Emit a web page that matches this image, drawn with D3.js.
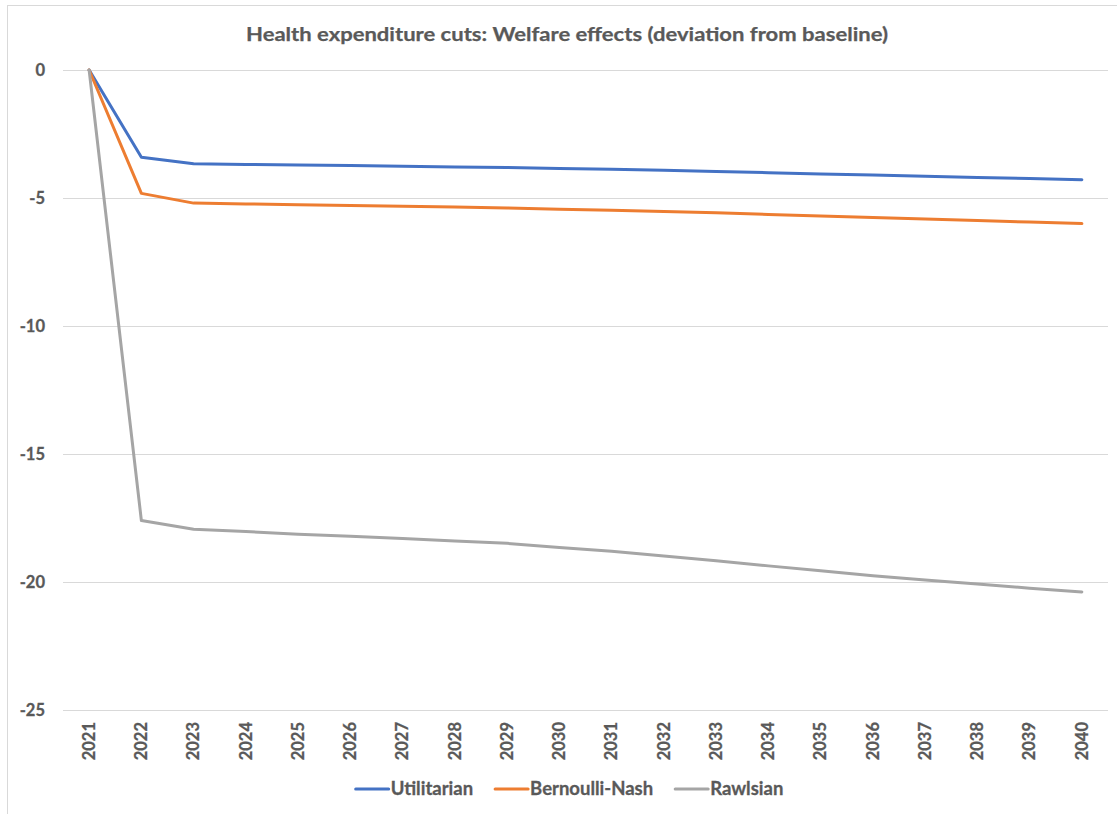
<!DOCTYPE html>
<html>
<head>
<meta charset="utf-8">
<script src="https://cdn.jsdelivr.net/npm/d3@7"></script>
<style>
  html, body { margin: 0; padding: 0; background: #fff; }
  svg { display: block; }
  text { font-family: Lato, "Open Sans", "Liberation Sans", sans-serif; font-weight: bold; fill: #595959; }
</style>
</head>
<body>
<svg id="chart" width="1117" height="814"></svg>
<script>
// Years on the category axis
const years = ["2021","2022","2023","2024","2025","2026","2027","2028","2029","2030",
               "2031","2032","2033","2034","2035","2036","2037","2038","2039","2040"];

// Welfare effects, deviation from baseline
const utilitarian = [0, -3.41, -3.66, -3.69, -3.71, -3.73, -3.76, -3.79, -3.81, -3.85,
                     -3.88, -3.92, -3.96, -4.01, -4.06, -4.10, -4.15, -4.20, -4.24, -4.29];
const bernoulliNash = [0, -4.82, -5.20, -5.23, -5.26, -5.29, -5.32, -5.35, -5.39, -5.44,
                       -5.48, -5.53, -5.58, -5.64, -5.70, -5.76, -5.82, -5.88, -5.94, -6.00];
const rawlsian = [0, -17.60, -17.94, -18.03, -18.13, -18.21, -18.30, -18.40, -18.49, -18.65,
                  -18.80, -18.98, -19.17, -19.37, -19.56, -19.76, -19.92, -20.08, -20.24, -20.39];

const yTicks = [0, -5, -10, -15, -20, -25];

const seriesNames = ["Utilitarian", "Bernoulli-Nash", "Rawlsian"];
const seriesColors = ["#4472C4", "#ED7D31", "#A5A5A5"];
const seriesValues = [utilitarian, bernoulliNash, rawlsian];

const titleText = "Health expenditure cuts: Welfare effects (deviation from baseline)";

const svg = d3.select("#chart");

// chart area frame
svg.append("rect")
  .attr("x", 7.5).attr("y", 5.5)
  .attr("width", 1200).attr("height", 900)
  .attr("fill", "#fff")
  .attr("stroke", "#d9d9d9").attr("stroke-width", 1);

const plot = { left: 63, right: 1108, top: 70, bottom: 710 };

const x = d3.scaleBand().domain(years).range([plot.left, plot.right]);
const xc = d => x(d) + x.bandwidth() / 2;
const y = d3.scaleLinear().domain([-25, 0]).range([plot.bottom, plot.top]);

// title
svg.append("text")
  .attr("x", 567).attr("y", 41)
  .attr("text-anchor", "middle")
  .attr("font-size", 19)
  .attr("textLength", 642)
  .attr("lengthAdjust", "spacingAndGlyphs")
  .style("stroke", "#595959").style("stroke-width", 0.25)
  .text(titleText);

// horizontal gridlines + value axis labels
const yAxis = d3.axisLeft(y)
  .tickValues(yTicks)
  .tickSize(-(plot.right - plot.left))
  .tickPadding(18)
  .tickFormat(d3.format("d"));

const gy = svg.append("g")
  .attr("transform", `translate(${plot.left},0)`)
  .call(yAxis);
gy.select(".domain").remove();
gy.selectAll(".tick line").attr("stroke", "#d9d9d9").attr("stroke-width", 1);
gy.selectAll(".tick text")
  .attr("font-size", 16.5)
  .attr("fill", "#595959")
  .attr("font-family", "Lato, 'Open Sans', sans-serif")
  .attr("font-weight", "bold")
  .style("stroke", "#595959").style("stroke-width", 0.3)
  .text(d => d === 0 ? "0" : "-" + Math.abs(d));

// category axis labels, rotated
const xAxis = d3.axisBottom(x).tickSize(0).tickPadding(0);
const gx = svg.append("g")
  .attr("transform", `translate(0,${plot.bottom})`)
  .call(xAxis);
gx.select(".domain").remove();
gx.selectAll(".tick text")
  .attr("font-size", 16.5)
  .attr("fill", "#595959")
  .attr("font-family", "Lato, 'Open Sans', sans-serif")
  .attr("font-weight", "bold")
  .style("stroke", "#595959").style("stroke-width", 0.3)
  .attr("transform", "rotate(-90)")
  .attr("text-anchor", "end")
  .attr("x", -12)
  .attr("y", 0)
  .attr("dy", "0.35em");

// series lines
const line = d3.line()
  .x((d, i) => xc(years[i]))
  .y(d => y(d));

seriesValues.forEach((vals, i) => {
  svg.append("path")
    .datum(vals)
    .attr("d", line)
    .attr("fill", "none")
    .attr("stroke", seriesColors[i])
    .attr("stroke-width", 3)
    .attr("stroke-linejoin", "round")
    .attr("stroke-linecap", "round");
});

// legend, centred under the plot
const legend = svg.append("g");
const items = seriesNames.map((name, i) => {
  const g = legend.append("g");
  g.append("line")
    .attr("x1", 0).attr("x2", 33)
    .attr("y1", 0).attr("y2", 0)
    .attr("stroke", seriesColors[i])
    .attr("stroke-width", 3)
    .attr("stroke-linecap", "round");
  const t = g.append("text")
    .attr("x", 35).attr("y", 0)
    .attr("dy", "0.35em")
    .attr("font-size", 18.5)
    .style("stroke", "#595959").style("stroke-width", 0.3)
    .text(name);
  return { g, w: 35 + t.node().getComputedTextLength() };
});
const gap = 22;
const total = d3.sum(items, d => d.w) + gap * (items.length - 1);
let cx = 569.5 - total / 2;
items.forEach(it => {
  it.g.attr("transform", `translate(${cx},789)`);
  cx += it.w + gap;
});
</script>
</body>
</html>
